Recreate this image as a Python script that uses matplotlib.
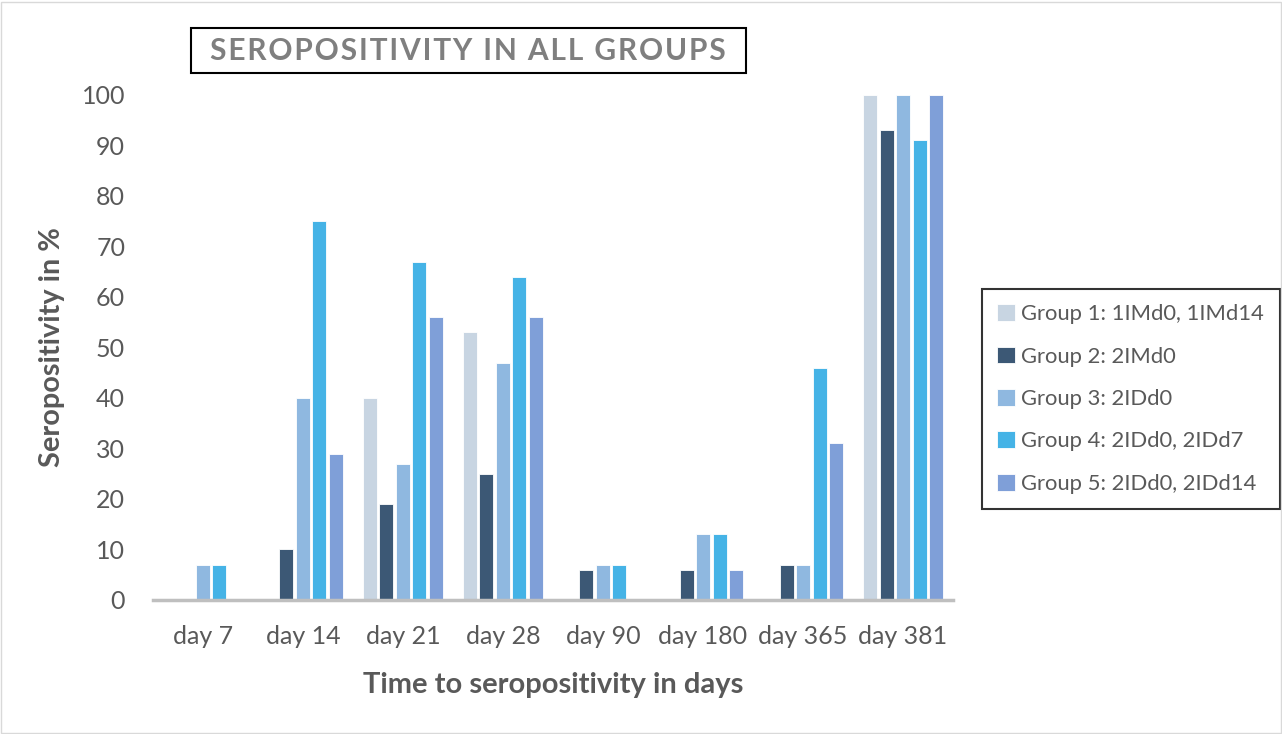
import numpy as np
import matplotlib

matplotlib.use("Agg")
import matplotlib.pyplot as plt
from matplotlib.patches import Rectangle

plt.rcParams["font.family"] = ["Lato", "DejaVu Sans"]

days = ["day 7", "day 14", "day 21", "day 28", "day 90", "day 180", "day 365", "day 381"]
group_names = [
    "Group 1: 1IMd0, 1IMd14",
    "Group 2: 2IMd0",
    "Group 3: 2IDd0",
    "Group 4: 2IDd0, 2IDd7",
    "Group 5: 2IDd0, 2IDd14",
]
group1 = [0, 0, 40, 53, 0, 0, 0, 100]
group2 = [0, 10, 19, 25, 6, 6, 7, 93]
group3 = [7, 40, 27, 47, 7, 13, 7, 100]
group4 = [7, 75, 67, 64, 7, 13, 46, 91]
group5 = [0, 29, 56, 56, 0, 6, 31, 100]
series = [group1, group2, group3, group4, group5]
colors = ["#c8d5e2", "#3c5875", "#8fb8e0", "#45b3e6", "#7f9fd8"]
title = "SEROPOSITIVITY IN ALL GROUPS"

fig = plt.figure(figsize=(12.82, 7.34), dpi=100)
fig.patches.append(Rectangle((0.001, 0.001), 0.998, 0.996, transform=fig.transFigure,
                             fill=False, edgecolor="#d9d9d9", linewidth=1))
ax = fig.add_axes([0.1193, 0.1826, 0.6241, 0.688])

x = np.arange(len(days))
step = 0.165
width = 0.14
for i, (vals, name, col) in enumerate(zip(series, group_names, colors)):
    ax.bar(x + (i - 2) * step, vals, width, color=col, label=name,
           edgecolor="white", linewidth=0.6)

ax.set_xlim(-0.5, len(days) - 0.5)
ax.set_ylim(0, 100)
ax.set_yticks(range(0, 101, 10))
ax.set_xticks(x)
ax.set_xticklabels(days)
ax.tick_params(axis="both", length=0, labelsize=18, colors="#595959")
ax.tick_params(axis="y", pad=20)
ax.tick_params(axis="x", pad=18)
for side in ["top", "right", "left"]:
    ax.spines[side].set_visible(False)
ax.spines["bottom"].set_color("#bfbfbf")
ax.spines["bottom"].set_linewidth(2.5)

ax.set_xlabel("Time to seropositivity in days", fontsize=21, fontweight="bold",
              color="#595959")
ax.set_ylabel("Seropositivity in %", fontsize=20.8, fontweight="bold",
              color="#595959")
ax.xaxis.set_label_coords(0.5, -0.142)
ax.yaxis.set_label_coords(-0.11, 0.5)

leg = ax.legend(loc="center left", bbox_to_anchor=(1.036, 0.398), frameon=True,
                fancybox=False, fontsize=15.8, labelspacing=1.02, handlelength=0.8,
                handleheight=0.8, handletextpad=0.3, borderpad=0.7,
                borderaxespad=0, labelcolor="#595959")
leg.get_frame().set_edgecolor("black")
leg.get_frame().set_linewidth(1.5)

fig.patches.append(Rectangle((191 / 1282, 1 - 73 / 734), (746 - 191) / 1282, 45 / 734,
                             transform=fig.transFigure, fill=False,
                             edgecolor="black", linewidth=1.5))
fig.text(468 / 1282, 1 - 51 / 734, "\u200a".join(title), ha="center",
         va="center", fontsize=21.5, fontweight="bold", color="#7f7f7f")

fig.savefig("out.png", dpi=100)
